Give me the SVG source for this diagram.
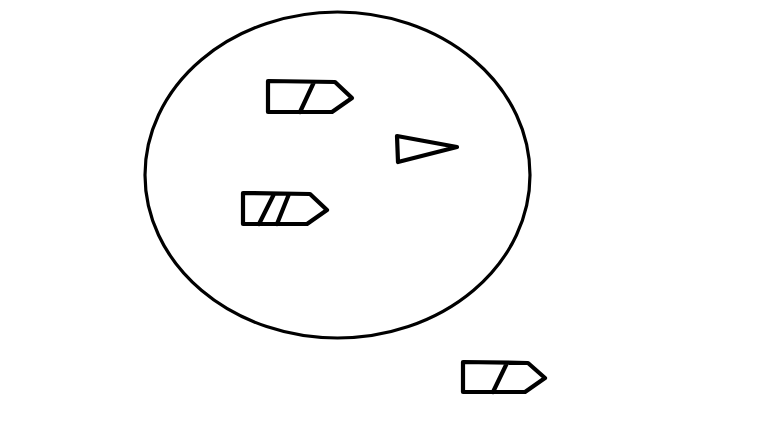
<svg xmlns="http://www.w3.org/2000/svg" width="768" height="432" viewBox="0 0 768 432">
<style>
.o{fill:none;stroke:#000;stroke-width:4.2;stroke-linejoin:round;stroke-linecap:round}
.c{fill:none;stroke:#000;stroke-width:3.2}
</style>
<rect width="768" height="432" fill="#fff"/>
<g id="area"><ellipse class="c" cx="337.5" cy="175" rx="192.5" ry="163"/></g>
<g id="shape1"><path class="o" d="M268 81 L335 82 L352 98 L332 112 L268 112 Z M314 82 L300 112"/></g>
<g id="triangle"><path class="o" d="M397 136 L457 147 L398 162 Z"/></g>
<g id="shape2"><path class="o" d="M243 193 L310 194 L327 210 L307 224 L243 224 Z M274 194 L259 224 M289 194 L277 224"/></g>
<g id="shape3"><path class="o" d="M463 362 L528 363 L545 378 L525 392 L463 392 Z M507 363 L493 392"/></g>
<g id="connectors"></g>
</svg>
